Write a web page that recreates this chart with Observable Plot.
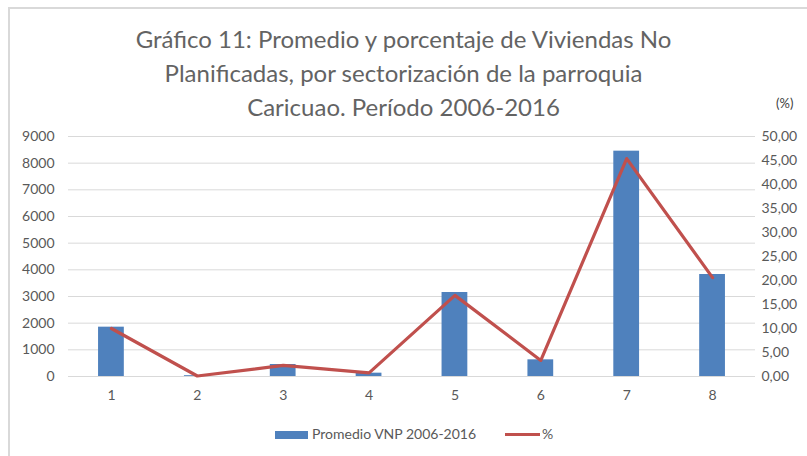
<!DOCTYPE html>
<html>
<head>
<meta charset="utf-8">
<script src="https://cdn.jsdelivr.net/npm/d3@7"></script>
<script src="https://cdn.jsdelivr.net/npm/@observablehq/plot@0.6"></script>
<style>
  html, body { margin: 0; padding: 0; background: #fff; }
  #wrap { position: relative; width: 807px; height: 456px; overflow: hidden; font-family: Lato, "Open Sans", sans-serif; color: #595959; }
  #frame { position: absolute; left: 8px; top: 7px; width: 900px; height: 600px; border: 1px solid #d9d9d9; border-width: 2px 0 0 2px; box-sizing: border-box; }
  #title { position: absolute; left: 0; top: 22px; width: 807px; text-align: center; font-size: 24px; line-height: 34px; color: #636363; }
  #pct { position: absolute; left: 776px; top: 95px; font-size: 13px; color: #404040; }
  #legend { position: absolute; top: 425px; left: 0; width: 807px; font-size: 14px; color: #595959; }
  #chart { position: absolute; left: 0; top: 0; }
</style>
</head>
<body>
<div id="wrap">
  <div id="frame"></div>
  <div id="chart"></div>
  <div id="title">Gráfico 11: Promedio y porcentaje de Viviendas No<br>Planificadas, por sectorización de la parroquia<br>Caricuao. Período 2006-2016</div>
  <div id="pct">(%)</div>
  <div id="legend">
    <span style="position:absolute;left:275px;top:6px;width:33px;height:8px;background:#4f81bd"></span>
    <span style="position:absolute;left:312px;top:0px;white-space:nowrap">Promedio VNP 2006-2016</span>
    <span style="position:absolute;left:505px;top:8px;width:35px;height:3px;background:#c0504d"></span>
    <span style="position:absolute;left:542px;top:0px">%</span>
  </div>
</div>
<script>
const sectores = [1, 2, 3, 4, 5, 6, 7, 8];
const promedioVNP = [1850, 30, 450, 125, 3150, 625, 8450, 3825];
const porcentaje = [10.0, 0.1, 2.3, 0.75, 16.9, 3.35, 45.4, 20.6];
const leftTicks = [0, 1000, 2000, 3000, 4000, 5000, 6000, 7000, 8000, 9000];
const rightTicks = [0, 5, 10, 15, 20, 25, 30, 35, 40, 45, 50];

const leftMax = 9000, rightMax = 50;
const k = leftMax / rightMax;

const data = sectores.map((s, i) => ({sector: s, vnp: promedioVNP[i], pct: porcentaje[i]}));

const chart = Plot.plot({
  width: 807,
  height: 456,
  marginLeft: 68,
  marginRight: 52,
  marginTop: 136,
  marginBottom: 80,
  style: {fontFamily: "Lato, 'Open Sans', sans-serif", fontSize: "14px", color: "#595959", background: "transparent", overflow: "visible"},
  x: {type: "band", domain: sectores, paddingInner: 0.7, paddingOuter: 0.35, round: false, label: null},
  y: {domain: [0, leftMax], label: null},
  marks: [
    Plot.ruleY(leftTicks, {stroke: "#d9d9d9", strokeWidth: 1}),
    Plot.barY(data, {x: "sector", y: "vnp", fill: "#4f81bd"}),
    Plot.line(data, {x: "sector", y: d => d.pct * k, stroke: "#c0504d", strokeWidth: 3.2, strokeLinejoin: "round", strokeLinecap: "round"}),
    Plot.axisY({ticks: leftTicks, tickSize: 0, tickPadding: 14, tickFormat: d => String(d), fill: "#595959", fontSize: 14}),
    Plot.axisY({anchor: "right", ticks: rightTicks.map(t => t * k), tickSize: 0, tickPadding: 6, tickFormat: d => (d / k).toFixed(2).replace(".", ","), fill: "#595959", fontSize: 14, textAnchor: "start"}),
    Plot.axisX({tickSize: 0, tickPadding: 14, fill: "#595959", fontSize: 14})
  ]
});
document.getElementById("chart").appendChild(chart);
</script>
</body>
</html>
